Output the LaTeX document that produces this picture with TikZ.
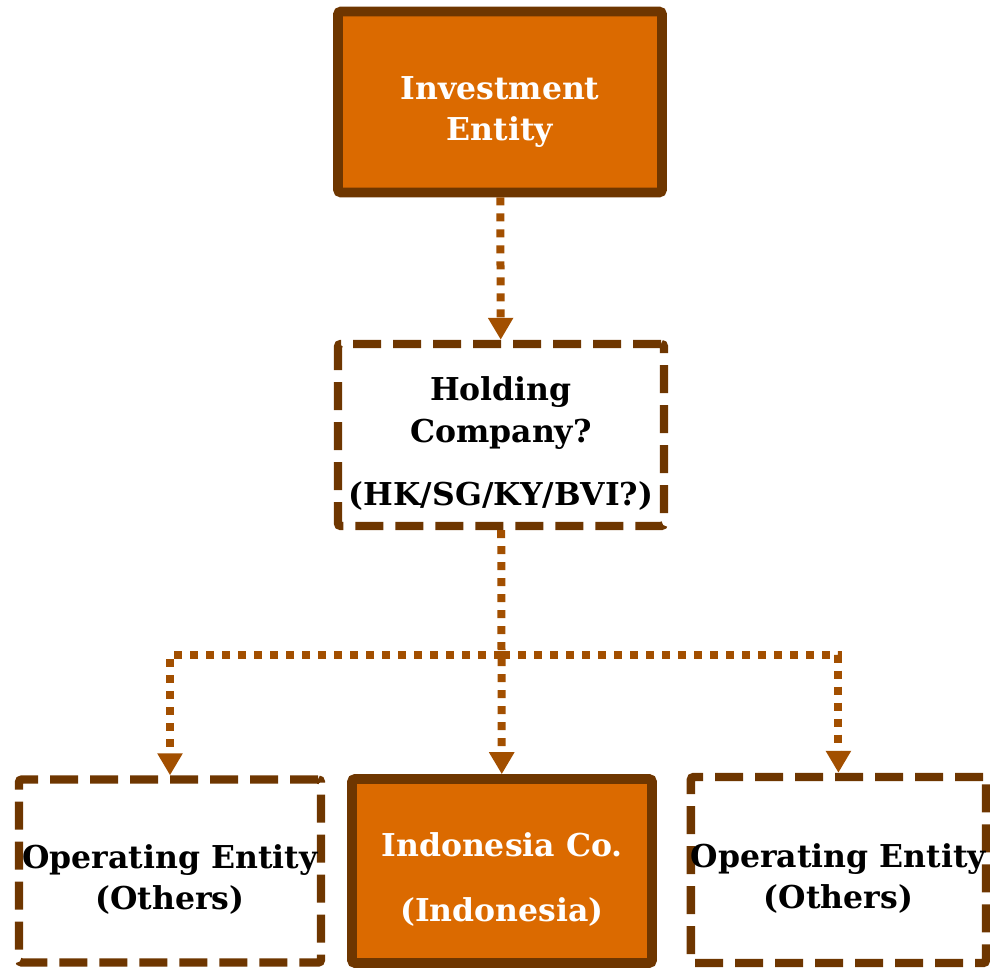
\documentclass[tikz,border=0pt]{standalone}
\usepackage{fontspec}
\setmainfont{DejaVu Serif}
\usetikzlibrary{arrows.meta,positioning}
\definecolor{IEorange}{HTML}{DB6A00}
\definecolor{IEbrown}{HTML}{6E3600}
\definecolor{IEdot}{HTML}{A24F00}
\newcommand{\boxstrut}{\rule{0pt}{0.9cm}}

\begin{document}
\begin{tikzpicture}[
    solidbox/.style={rectangle,draw=IEbrown,fill=IEorange,line width=0.24cm,align=center,inner sep=0pt,
                     text=white,font=\bfseries\fontsize{22.4}{29.5}\selectfont,rounded corners=2pt,
                     text depth=0pt},
    dashbox/.style={rectangle,draw=IEbrown,fill=white,line width=0.21cm,dash pattern=on 0.7cm off 0.3cm,
                    align=center,inner sep=0pt,font=\bfseries\fontsize{22.4}{29.5}\selectfont,rounded corners=2pt,
                    text depth=0pt},
    conn/.style={-{Triangle[width=0.6cm,length=0.55cm]},IEdot,line width=0.2cm,
                 dash pattern=on 0.2cm off 0.2cm},
  ]
  \useasboundingbox (0,0) rectangle (24.75,24.175);

  \node[solidbox,minimum width=8.1cm,minimum height=4.525cm] (inv) at (12.5,21.625)
       {\boxstrut Investment\\Entity};
  \node[dashbox,minimum width=8.15cm,minimum height=4.55cm] (hold) at (12.525,13.3)
       {\boxstrut Holding\\Company?\\[0.55cm](HK/SG/KY/BVI?)};

  \node[dashbox,minimum width=7.55cm,minimum height=4.575cm] (opl) at (4.25,2.4)
       {\boxstrut Operating Entity\\(Others)};
  \node[solidbox,minimum width=7.5cm,minimum height=4.6cm] (ind) at (12.55,2.4)
       {\boxstrut Indonesia Co.\\[0.6cm](Indonesia)};
  \node[dashbox,minimum width=7.33cm,minimum height=4.65cm] (opr) at (20.96,2.425)
       {\boxstrut Operating Entity\\(Others)};

  \coordinate (split) at (12.55,7.8);

  \draw[conn] (inv) -- (hold);
  \draw[conn] (hold) -- (ind);
  \draw[conn] (split) -| (opl);
  \draw[conn] (split) -| (opr);
\end{tikzpicture}
\end{document}
